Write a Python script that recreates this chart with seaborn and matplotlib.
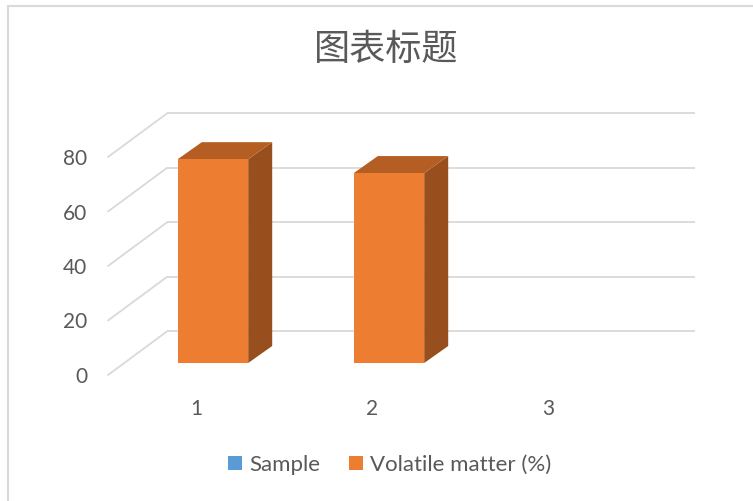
import numpy as np
import pandas as pd
import matplotlib
matplotlib.use("Agg")
import matplotlib.pyplot as plt
import seaborn as sns
from matplotlib.patches import Polygon, Patch, Rectangle
from matplotlib.transforms import Affine2D

# data
categories = ["1", "2", "3"]
sample = [np.nan, np.nan, np.nan]
volatile_matter = [74.8, 69.7, np.nan]
series_names = ["Sample", "Volatile matter (%)"]
y_ticks = [0, 20, 40, 60, 80]
title = "图表标题"

colors = {"Sample": "#5B9BD5", "Volatile matter (%)": "#ED7D31"}
top_color = "#B45E23"
side_color = "#984E1D"
grid_color = "#D9D9D9"
text_color = "#595959"

df = pd.DataFrame({
    "category": categories * 2,
    "series": [series_names[0]] * 3 + [series_names[1]] * 3,
    "value": sample + volatile_matter,
})

sns.set_theme(style="white")
plt.rcParams["font.family"] = ["Noto Sans CJK SC", "DejaVu Sans"]
latin = ["Lato", "DejaVu Sans"]

W, H = 753, 501
fig = plt.figure(figsize=(W / 100, H / 100), dpi=100)

# oblique projection: full depth of the floor/wall, in data units
depth_x, depth_y = 59 / 176, 16.0
ymax = 80

left_px, right_px = 108, 108 + 3 * 176 + 59
bottom_px = 375
ppu = 2.725
top_px = bottom_px - (ymax + depth_y) * ppu
ax = fig.add_axes([left_px / W, 1 - bottom_px / H,
                   (right_px - left_px) / W, (bottom_px - top_px) / H])

sns.barplot(data=df, x="category", y="value", hue="series", order=categories,
            hue_order=series_names, palette=colors, dodge=False, width=0.4,
            legend=False, ax=ax, linewidth=0, saturation=1)

ax.set_xlim(-0.5, 2.5 + depth_x)
ax.set_ylim(0, ymax + depth_y)

# back wall gridlines and floor/side diagonals
for v in y_ticks:
    ax.plot([-0.5 + depth_x, 2.5 + depth_x], [v + depth_y, v + depth_y],
            color=grid_color, lw=1.3, zorder=0, clip_on=False, solid_capstyle="butt")
    ax.plot([-0.5, -0.5 + depth_x], [v, v + depth_y],
            color=grid_color, lw=1.3, zorder=0, clip_on=False)

# bars sit partway into the depth; add top and side faces
bar_dx, bar_dy = 17 / 176, 12 / ppu
bar_ddx, bar_ddy = 24 / 176, 17 / ppu
shift = Affine2D().translate(bar_dx, bar_dy) + ax.transData
for p in list(ax.patches):
    h = p.get_height()
    if not np.isfinite(h) or h == 0:
        continue
    p.set_transform(shift)
    p.set_zorder(3)
    x0 = p.get_x() + bar_dx
    x1 = x0 + p.get_width()
    y0 = bar_dy
    y1 = bar_dy + h
    side = Polygon([(x1, y0), (x1 + bar_ddx, y0 + bar_ddy),
                    (x1 + bar_ddx, y1 + bar_ddy), (x1, y1)],
                   closed=True, facecolor=side_color, edgecolor="none", zorder=2)
    top = Polygon([(x0, y1), (x0 + bar_ddx, y1 + bar_ddy),
                   (x1 + bar_ddx, y1 + bar_ddy), (x1, y1)],
                  closed=True, facecolor=top_color, edgecolor="none", zorder=2)
    ax.add_patch(side)
    ax.add_patch(top)

for s in ax.spines.values():
    s.set_visible(False)
ax.set_yticks(y_ticks)
ax.set_yticklabels([str(v) for v in y_ticks], color=text_color, fontsize=15,
                   family=latin)
ax.set_xticks(range(len(categories)))
ax.set_xticklabels(categories, color=text_color, fontsize=15, family=latin)
ax.tick_params(axis="y", length=0, pad=15)
ax.tick_params(axis="x", length=0, pad=17.5)
ax.set_xlabel("")
ax.set_ylabel("")
ax.grid(False)

fig.text(386 / W, 1 - 50 / H, title, ha="center", va="center",
         fontsize=26, color=text_color)

handles = [Patch(facecolor=colors[n], edgecolor="none") for n in series_names]
fig.legend(handles, series_names, loc="center", bbox_to_anchor=(390 / W, 1 - 465 / H),
           ncol=2, frameon=False, handlelength=0.6, handleheight=0.6,
           handletextpad=0.35, columnspacing=1.3,
           prop={"family": latin, "size": 16},
           labelcolor=text_color)

# chart area border
fig.patches.append(Rectangle((8 / W, -0.1), 1.2, 1.1 - 6 / H, transform=fig.transFigure,
                             fill=False, edgecolor=grid_color, lw=1.5))

fig.savefig("out.png", dpi=100, facecolor="white")
